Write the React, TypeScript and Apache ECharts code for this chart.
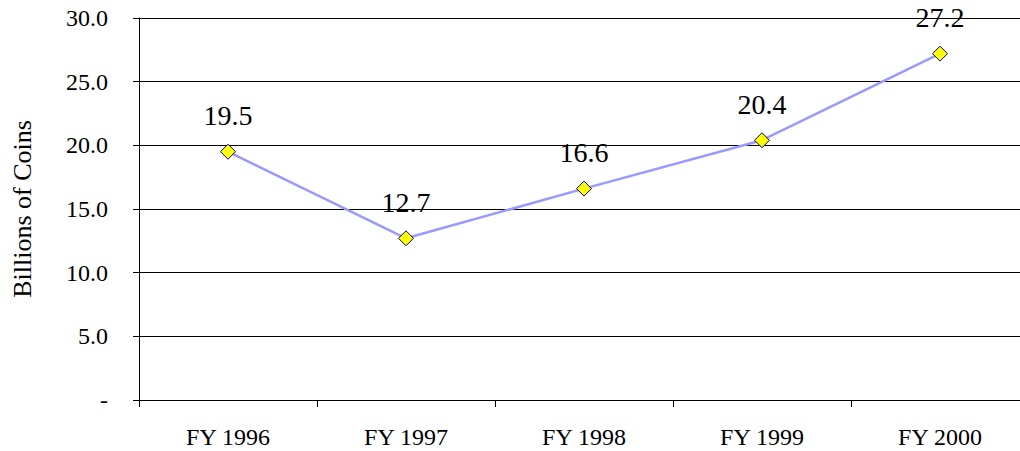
import React, { useEffect, useRef } from "react";
import * as echarts from "echarts";

const categories = ["FY 1996", "FY 1997", "FY 1998", "FY 1999", "FY 2000"];
const coins = [19.5, 12.7, 16.6, 20.4, 27.2];
const yAxisTitle = "Billions of Coins";

export default function App() {
  const ref = useRef<HTMLDivElement>(null);
  useEffect(() => {
    if (!ref.current) return;
    const chart = echarts.init(ref.current, null, { renderer: "svg" });
    const font = "Liberation Serif, Times New Roman, serif";
    chart.setOption({
      animation: false,
      backgroundColor: "#ffffff",
      textStyle: { fontFamily: font },
      grid: { left: 139, top: 18, width: 890, height: 382, outerBoundsMode: "none", containLabel: false },
      xAxis: {
        type: "category",
        data: categories,
        boundaryGap: true,
        axisLine: { lineStyle: { color: "#000", width: 1 } },
        axisTick: { show: true, length: 7, lineStyle: { color: "#000" } },
        axisLabel: { color: "#000", fontFamily: font, fontSize: 24, margin: 25 },
        splitLine: { show: false },
      },
      yAxis: {
        type: "value",
        min: 0,
        max: 30,
        interval: 5,
        name: yAxisTitle,
        nameLocation: "middle",
        nameRotate: 90,
        nameGap: 104,
        nameTextStyle: { color: "#000", fontFamily: font, fontSize: 26 },
        axisLine: { show: true, lineStyle: { color: "#000", width: 1 } },
        axisTick: { show: true, length: 6, lineStyle: { color: "#000" } },
        axisLabel: {
          color: "#000",
          fontFamily: font,
          fontSize: 24,
          margin: 31,
          formatter: (v: number) => (v === 0 ? "-" : v.toFixed(1)),
        },
        splitLine: { show: true, lineStyle: { color: "#000", width: 1 } },
      },
      series: [
        {
          type: "line",
          data: coins,
          symbol: "diamond",
          symbolSize: 15,
          lineStyle: { color: "#9999ff", width: 2.5 },
          itemStyle: { color: "#ffff00", borderColor: "#000080", borderWidth: 1 },
          label: {
            show: true,
            position: "top",
            distance: 14,
            color: "#000",
            fontFamily: font,
            fontSize: 28,
            formatter: (p: any) => Number(p.value).toFixed(1),
          },
        },
      ],
    });
    return () => chart.dispose();
  }, []);
  return (
    <div style={{ position: "fixed", left: 0, top: 0, width: 1020, height: 451, overflow: "hidden" }}>
      <div ref={ref} style={{ width: 1040, height: 451 }} />
    </div>
  );
}
